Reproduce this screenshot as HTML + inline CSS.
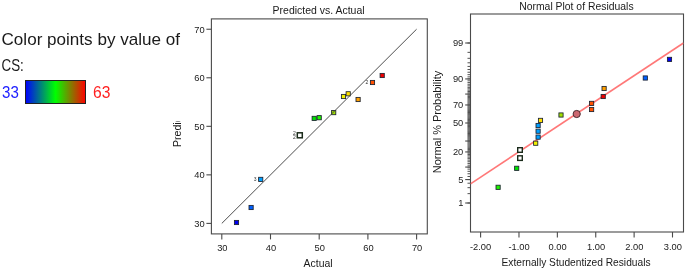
<!DOCTYPE html>
<html><head><meta charset="utf-8"><title>Diagnostics</title>
<style>
html,body{margin:0;padding:0;background:#fff}
body{width:685px;height:269px;overflow:hidden}
svg{display:block}
text{font-family:"Liberation Sans",sans-serif;fill:#1a1a1a}
.t9{font-size:9.3px}
.t11{font-size:11px}
.t17{font-size:17px}
.ax{stroke:#4a4a4a;stroke-width:1.1;fill:none}
.mk{stroke:#1c2a3c;stroke-width:1}
</style></head><body>

<svg width="685" height="269" viewBox="0 0 685 269">
<defs><linearGradient id="cg" x1="0" y1="0" x2="1" y2="0"><stop offset="0" stop-color="#0000ff"/><stop offset="0.5" stop-color="#00ff00"/><stop offset="1" stop-color="#ff0000"/></linearGradient>
<clipPath id="c2"><rect x="470.5" y="14" width="213" height="217.8"/></clipPath>
<clipPath id="cp"><rect x="165" y="121.5" width="25" height="40"/></clipPath></defs>
<rect x="0" y="0" width="685" height="269" fill="#ffffff"/>
<text class="t17" x="1.5" y="45.3" textLength="178.5" lengthAdjust="spacingAndGlyphs">Color points by value of</text>
<text class="t17" x="1.5" y="71" textLength="22.3" lengthAdjust="spacingAndGlyphs">CS:</text>
<text class="t17" x="2" y="97.8" textLength="16.8" lengthAdjust="spacingAndGlyphs" style="fill:#2020ff">33</text>
<rect x="25.5" y="80.5" width="60" height="23" fill="url(#cg)" stroke="#222" stroke-width="1"/>
<text class="t17" x="93" y="97.8" textLength="17.4" lengthAdjust="spacingAndGlyphs" style="fill:#ff2020">63</text>
<rect class="ax" x="211.4" y="18.9" width="215.9" height="215.0"/>
<text class="t11" x="318.6" y="14.4" text-anchor="middle" textLength="92" lengthAdjust="spacingAndGlyphs">Predicted vs. Actual</text>
<line class="ax" x1="206.4" y1="223.4" x2="211.4" y2="223.4"/>
<text class="t9" x="204.6" y="226.70" text-anchor="end">30</text>
<line class="ax" x1="221.8" y1="233.9" x2="221.8" y2="239.4"/>
<text class="t9" x="222.30" y="250.8" text-anchor="middle">30</text>
<line class="ax" x1="206.4" y1="174.86" x2="211.4" y2="174.86"/>
<text class="t9" x="204.6" y="178.16" text-anchor="end">40</text>
<line class="ax" x1="270.5" y1="233.9" x2="270.5" y2="239.4"/>
<text class="t9" x="271.00" y="250.8" text-anchor="middle">40</text>
<line class="ax" x1="206.4" y1="126.32000000000001" x2="211.4" y2="126.32000000000001"/>
<text class="t9" x="204.6" y="129.62" text-anchor="end">50</text>
<line class="ax" x1="319.20000000000005" y1="233.9" x2="319.20000000000005" y2="239.4"/>
<text class="t9" x="319.70" y="250.8" text-anchor="middle">50</text>
<line class="ax" x1="206.4" y1="77.78" x2="211.4" y2="77.78"/>
<text class="t9" x="204.6" y="81.08" text-anchor="end">60</text>
<line class="ax" x1="367.9" y1="233.9" x2="367.9" y2="239.4"/>
<text class="t9" x="368.40" y="250.8" text-anchor="middle">60</text>
<line class="ax" x1="206.4" y1="29.24000000000001" x2="211.4" y2="29.24000000000001"/>
<text class="t9" x="204.6" y="32.54" text-anchor="end">70</text>
<line class="ax" x1="416.6" y1="233.9" x2="416.6" y2="239.4"/>
<text class="t9" x="417.10" y="250.8" text-anchor="middle">70</text>
<text class="t11" x="318.1" y="266.6" text-anchor="middle" textLength="29" lengthAdjust="spacingAndGlyphs">Actual</text>
<g clip-path="url(#cp)"><text class="t11" transform="translate(181,147) rotate(-90)" textLength="44.5" lengthAdjust="spacingAndGlyphs">Predicted</text></g>
<rect x="234.40" y="220.40" width="4.2" height="4.2" fill="#0000f0" stroke="#1c2230" stroke-width="0.85"/>
<rect x="249.00" y="205.40" width="4.2" height="4.2" fill="#0060ff" stroke="#1c2230" stroke-width="0.85"/>
<rect x="258.60" y="177.30" width="4.2" height="4.2" fill="#00a0ff" stroke="#1c2230" stroke-width="0.85"/>
<rect x="312.10" y="116.30" width="4.2" height="4.2" fill="#00e000" stroke="#1c2230" stroke-width="0.85"/>
<rect x="317.10" y="115.60" width="4.2" height="4.2" fill="#20f000" stroke="#1c2230" stroke-width="0.85"/>
<rect x="331.60" y="110.50" width="4.2" height="4.2" fill="#a0e000" stroke="#1c2230" stroke-width="0.85"/>
<rect x="341.40" y="94.40" width="4.2" height="4.2" fill="#f0f000" stroke="#1c2230" stroke-width="0.85"/>
<rect x="346.10" y="91.70" width="4.2" height="4.2" fill="#ffe000" stroke="#1c2230" stroke-width="0.85"/>
<rect x="356.00" y="97.40" width="4.2" height="4.2" fill="#ffa000" stroke="#1c2230" stroke-width="0.85"/>
<rect x="370.40" y="80.40" width="4.2" height="4.2" fill="#ff5000" stroke="#1c2230" stroke-width="0.85"/>
<rect x="380.10" y="73.40" width="4.2" height="4.2" fill="#f00000" stroke="#1c2230" stroke-width="0.85"/>
<line x1="221.8" y1="223.4" x2="416.6" y2="29.2" stroke="#444" stroke-width="0.95"/>
<rect x="297.30" y="132.80" width="5.0" height="5.0" fill="#ffffff" stroke="#1a2a1a" stroke-width="1.5"/>
<text x="255.2" y="181.3" text-anchor="middle" style="font-size:5px;fill:#333">3</text>
<text x="294.3" y="134.5" text-anchor="middle" style="font-size:5px;fill:#333">2</text>
<text x="294.3" y="139" text-anchor="middle" style="font-size:5px;fill:#333">2</text>
<text x="367" y="84.2" text-anchor="middle" style="font-size:5px;fill:#333">2</text>
<text class="t11" x="576.4" y="9.8" text-anchor="middle" textLength="114.4" lengthAdjust="spacingAndGlyphs">Normal Plot of Residuals</text>
<path d="M467.5 203.00H470.5M467.5 193.63H470.5M467.5 187.68H470.5M467.5 183.21H470.5M467.5 179.57H470.5M467.5 176.47H470.5M467.5 173.75H470.5M467.5 171.32H470.5M467.5 169.11H470.5M467.5 167.07H470.5M467.5 165.18H470.5M467.5 163.41H470.5M467.5 161.74H470.5M467.5 160.15H470.5M467.5 158.64H470.5M467.5 157.20H470.5M467.5 155.81H470.5M467.5 154.48H470.5M467.5 153.19H470.5M467.5 151.94H470.5M467.5 150.73H470.5M467.5 149.56H470.5M467.5 148.41H470.5M467.5 147.29H470.5M467.5 146.20H470.5M467.5 145.12H470.5M467.5 144.07H470.5M467.5 143.04H470.5M467.5 142.03H470.5M467.5 141.03H470.5M467.5 140.05H470.5M467.5 139.08H470.5M467.5 138.13H470.5M467.5 137.18H470.5M467.5 136.25H470.5M467.5 135.33H470.5M467.5 134.41H470.5M467.5 133.51H470.5M467.5 132.61H470.5M467.5 131.71H470.5M467.5 130.83H470.5M467.5 129.94H470.5M467.5 129.07H470.5M467.5 128.19H470.5M467.5 127.32H470.5M467.5 126.45H470.5M467.5 125.59H470.5M467.5 124.72H470.5M467.5 123.86H470.5M467.5 123.00H470.5M467.5 122.14H470.5M467.5 121.28H470.5M467.5 120.41H470.5M467.5 119.55H470.5M467.5 118.68H470.5M467.5 117.81H470.5M467.5 116.93H470.5M467.5 116.06H470.5M467.5 115.17H470.5M467.5 114.29H470.5M467.5 113.39H470.5M467.5 112.49H470.5M467.5 111.59H470.5M467.5 110.67H470.5M467.5 109.75H470.5M467.5 108.82H470.5M467.5 107.87H470.5M467.5 106.92H470.5M467.5 105.95H470.5M467.5 104.97H470.5M467.5 103.97H470.5M467.5 102.96H470.5M467.5 101.93H470.5M467.5 100.88H470.5M467.5 99.80H470.5M467.5 98.71H470.5M467.5 97.59H470.5M467.5 96.44H470.5M467.5 95.27H470.5M467.5 94.06H470.5M467.5 92.81H470.5M467.5 91.52H470.5M467.5 90.19H470.5M467.5 88.80H470.5M467.5 87.36H470.5M467.5 85.85H470.5M467.5 84.26H470.5M467.5 82.59H470.5M467.5 80.82H470.5M467.5 78.93H470.5M467.5 76.89H470.5M467.5 74.68H470.5M467.5 72.25H470.5M467.5 69.53H470.5M467.5 66.43H470.5M467.5 62.79H470.5M467.5 58.32H470.5M467.5 52.37H470.5M467.5 43.00H470.5" stroke="#4a4a4a" stroke-width="0.95" fill="none"/>
<line class="ax" x1="465.2" y1="203.00" x2="470.5" y2="203.00"/>
<line class="ax" x1="465.2" y1="179.57" x2="470.5" y2="179.57"/>
<line class="ax" x1="465.2" y1="167.07" x2="470.5" y2="167.07"/>
<line class="ax" x1="465.2" y1="151.94" x2="470.5" y2="151.94"/>
<line class="ax" x1="465.2" y1="141.03" x2="470.5" y2="141.03"/>
<line class="ax" x1="465.2" y1="123.00" x2="470.5" y2="123.00"/>
<line class="ax" x1="465.2" y1="104.97" x2="470.5" y2="104.97"/>
<line class="ax" x1="465.2" y1="94.06" x2="470.5" y2="94.06"/>
<line class="ax" x1="465.2" y1="78.93" x2="470.5" y2="78.93"/>
<line class="ax" x1="465.2" y1="43.00" x2="470.5" y2="43.00"/>
<text class="t9" x="463.3" y="206.30" text-anchor="end">1</text>
<text class="t9" x="463.3" y="182.87" text-anchor="end">5</text>
<text class="t9" x="463.3" y="155.24" text-anchor="end">20</text>
<text class="t9" x="463.3" y="126.30" text-anchor="end">50</text>
<text class="t9" x="463.3" y="108.27" text-anchor="end">70</text>
<text class="t9" x="463.3" y="82.23" text-anchor="end">90</text>
<text class="t9" x="463.3" y="46.30" text-anchor="end">99</text>
<rect class="ax" x="470.5" y="14" width="213.0" height="218.0"/>
<line class="ax" x1="480.60" y1="232.0" x2="480.60" y2="237.5"/>
<text class="t9" x="480.60" y="249.9" text-anchor="middle">-2.00</text>
<line class="ax" x1="518.98" y1="232.0" x2="518.98" y2="237.5"/>
<text class="t9" x="518.98" y="249.9" text-anchor="middle">-1.00</text>
<line class="ax" x1="557.36" y1="232.0" x2="557.36" y2="237.5"/>
<text class="t9" x="557.66" y="249.9" text-anchor="middle">0.00</text>
<line class="ax" x1="595.74" y1="232.0" x2="595.74" y2="237.5"/>
<text class="t9" x="596.04" y="249.9" text-anchor="middle">1.00</text>
<line class="ax" x1="634.12" y1="232.0" x2="634.12" y2="237.5"/>
<text class="t9" x="634.42" y="249.9" text-anchor="middle">2.00</text>
<line class="ax" x1="672.50" y1="232.0" x2="672.50" y2="237.5"/>
<text class="t9" x="672.80" y="249.9" text-anchor="middle">3.00</text>
<text class="t11" x="576" y="265.8" text-anchor="middle" textLength="149" lengthAdjust="spacingAndGlyphs">Externally Studentized Residuals</text>
<text class="t11" transform="translate(441.2,173.3) rotate(-90)" textLength="102.5" lengthAdjust="spacingAndGlyphs">Normal % Probability</text>
<line x1="470.5" y1="183.8" x2="683.5" y2="43" stroke="#ff7878" stroke-width="1.6" clip-path="url(#c2)"/>
<rect x="496.00" y="185.20" width="4.2" height="4.2" fill="#20f000" stroke="#1c2230" stroke-width="0.85"/>
<rect x="514.60" y="166.20" width="4.2" height="4.2" fill="#00e000" stroke="#1c2230" stroke-width="0.85"/>
<rect x="533.60" y="141.10" width="4.2" height="4.2" fill="#f0f000" stroke="#1c2230" stroke-width="0.85"/>
<rect x="536.00" y="135.00" width="4.2" height="4.2" fill="#00a0ff" stroke="#1c2230" stroke-width="0.85"/>
<rect x="536.00" y="129.10" width="4.2" height="4.2" fill="#00a0ff" stroke="#1c2230" stroke-width="0.85"/>
<rect x="536.00" y="123.40" width="4.2" height="4.2" fill="#00a0ff" stroke="#1c2230" stroke-width="0.85"/>
<rect x="538.40" y="118.30" width="4.2" height="4.2" fill="#ffe000" stroke="#1c2230" stroke-width="0.85"/>
<rect x="558.90" y="112.90" width="4.2" height="4.2" fill="#a0e000" stroke="#1c2230" stroke-width="0.85"/>
<rect x="589.50" y="107.40" width="4.2" height="4.2" fill="#ff5000" stroke="#1c2230" stroke-width="0.85"/>
<rect x="589.50" y="101.30" width="4.2" height="4.2" fill="#ff5000" stroke="#1c2230" stroke-width="0.85"/>
<rect x="601.10" y="94.40" width="4.2" height="4.2" fill="#f00000" stroke="#1c2230" stroke-width="0.85"/>
<rect x="602.00" y="86.40" width="4.2" height="4.2" fill="#ffa000" stroke="#1c2230" stroke-width="0.85"/>
<rect x="643.20" y="75.90" width="4.2" height="4.2" fill="#0060ff" stroke="#1c2230" stroke-width="0.85"/>
<rect x="667.40" y="57.30" width="4.2" height="4.2" fill="#0000f0" stroke="#1c2230" stroke-width="0.85"/>
<rect x="517.70" y="147.70" width="4.6" height="4.6" fill="#ffffff" stroke="#1a2a1a" stroke-width="1.4"/>
<rect x="517.70" y="155.80" width="4.6" height="4.6" fill="#ffffff" stroke="#1a2a1a" stroke-width="1.4"/>
<circle cx="576.7" cy="114" r="3.6" fill="#cc6870" stroke="#4a2a30" stroke-width="1"/>
</svg>
</body></html>
